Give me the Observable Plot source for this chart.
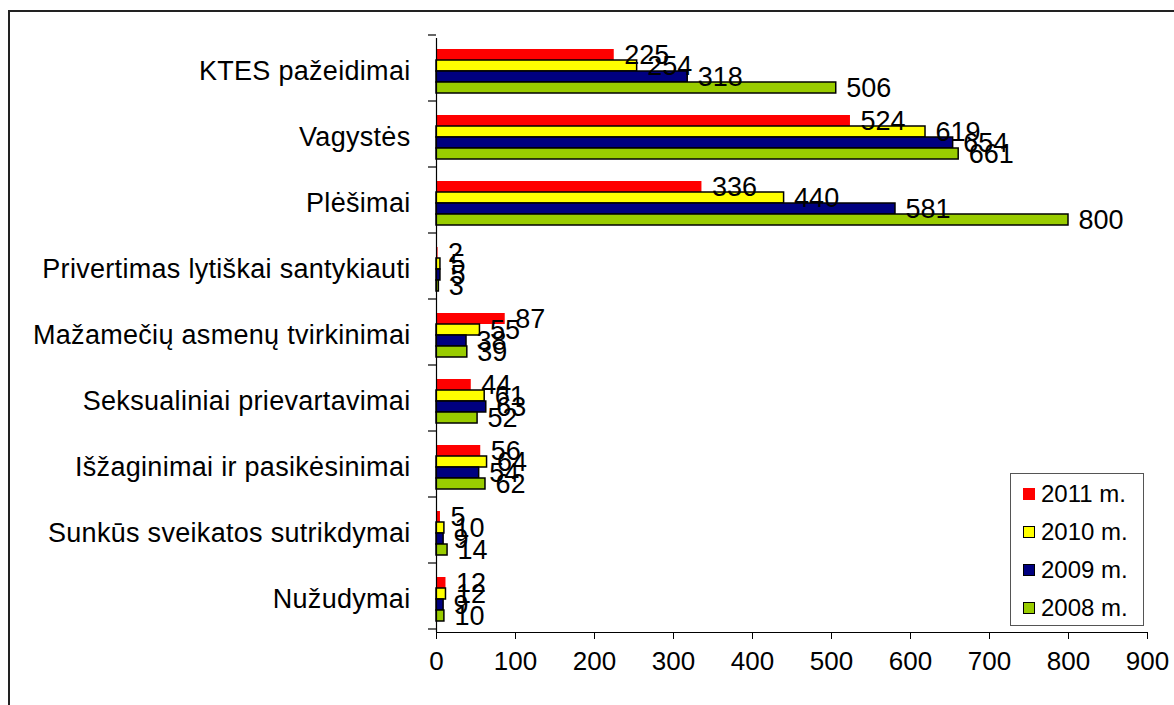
<!DOCTYPE html>
<html><head><meta charset="utf-8">
<script src="https://cdn.jsdelivr.net/npm/d3@7"></script>
<script src="https://cdn.jsdelivr.net/npm/@observablehq/plot@0.6"></script>
<style>
html,body{margin:0;padding:0;background:#fff;overflow:hidden;}
#wrap{position:relative;width:1174px;height:705px;font-family:"Liberation Sans",Arial,sans-serif;}
#frame{position:absolute;left:8px;top:10px;width:1220px;height:740px;border:2px solid #222;box-sizing:border-box;pointer-events:none;}
#chart{position:absolute;left:0;top:0;}
#legend{position:absolute;left:1010px;top:473px;width:134px;height:153px;border:1.5px solid #555;box-sizing:border-box;background:#fff;padding-top:1px;}
.item{display:flex;align-items:center;height:38px;padding-left:12px;font-size:24px;color:#000;}
.sw{width:12px;height:12px;box-sizing:border-box;margin-right:6px;}
</style></head>
<body>
<div id="wrap">
  <div id="chart"></div>
  <div id="frame"></div>
  <div id="legend"></div>
</div>
<script>
const categories = ["KTES pažeidimai","Vagystės","Plėšimai","Privertimas lytiškai santykiauti","Mažamečių asmenų tvirkinimai","Seksualiniai prievartavimai","Išžaginimai ir pasikėsinimai","Sunkūs sveikatos sutrikdymai","Nužudymai"];
const series = ["2011 m.","2010 m.","2009 m.","2008 m."];
const v2011 = [225,524,336,2,87,44,56,5,12];
const v2010 = [254,619,440,5,55,61,64,10,12];
const v2009 = [318,654,581,5,38,63,54,9,9];
const v2008 = [506,661,800,3,39,52,62,14,10];
const colors = ["#ff0000","#ffff00","#000080","#99cc00"];
const xTicks = [0,100,200,300,400,500,600,700,800,900];

const seriesValues = [v2011, v2010, v2009, v2008];
const data = categories.flatMap((c,i) => series.map((s,j) => ({category:c, series:s, value:seriesValues[j][i]})));

const chart = Plot.plot({
  width:1174, height:705,
  marginLeft:436, marginRight:27, marginTop:35, marginBottom:71,
  style:{fontFamily:'"Liberation Sans",Arial,sans-serif', fontSize:"26px", color:"#000", background:"transparent", overflow:"visible"},
  x:{domain:[0,900], ticks:xTicks, tickSize:7, tickPadding:12, line:true, label:null},
  y:{domain:series, axis:null, paddingInner:0, paddingOuter:0.77},
  fy:{domain:categories, padding:0, axis:"left", label:null, tickSize:0, tickPadding:26},
  color:{domain:series, range:colors},
  marks:[
    Plot.barX(data, {filter:d => d.series === series[0], x:"value", y:"series", fy:"category", fill:"series"}),
    Plot.barX(data, {filter:d => d.series !== series[0], x:"value", y:"series", fy:"category", fill:"series", stroke:"#000", strokeWidth:1.5}),
    Plot.ruleX([0], {stroke:"#000", strokeWidth:1.2}),
    Plot.text(data, {x:"value", y:"series", fy:"category", text:d => String(d.value), textAnchor:"start", dx:10, fontSize:27, fill:"#000"})
  ]
});
document.getElementById("chart").appendChild(chart);

// enlarge the category labels of the fy axis a little (reference uses a wide setting)
d3.select(chart).selectAll("text").each(function() {
  const t = this.textContent;
  if (categories.includes(t) && !this.closest("[aria-label='text']")) {
    d3.select(this).style("font-size", "27px").style("letter-spacing", "0.3px");
  }
});

// category boundary ticks on the y axis, from the fy scale
const fyS = chart.scale("fy");
const xS = chart.scale("x");
const x0 = xS.apply(0);
const r0 = Math.min(...fyS.range);
const svg = d3.select(chart);
for (let i = 0; i <= categories.length; i++) {
  const y = r0 + i * fyS.step;
  svg.append("line").attr("x1", x0 - 8).attr("x2", x0).attr("y1", y).attr("y2", y)
    .attr("stroke", "#000").attr("stroke-width", 1.2);
}

// legend
const leg = d3.select("#legend");
series.forEach((s, j) => {
  const it = leg.append("div").attr("class", "item");
  it.append("div").attr("class", "sw").style("background", colors[j])
    .style("border", j === 0 ? "none" : "1.5px solid #000");
  it.append("span").text(s);
});
</script>
</body></html>
